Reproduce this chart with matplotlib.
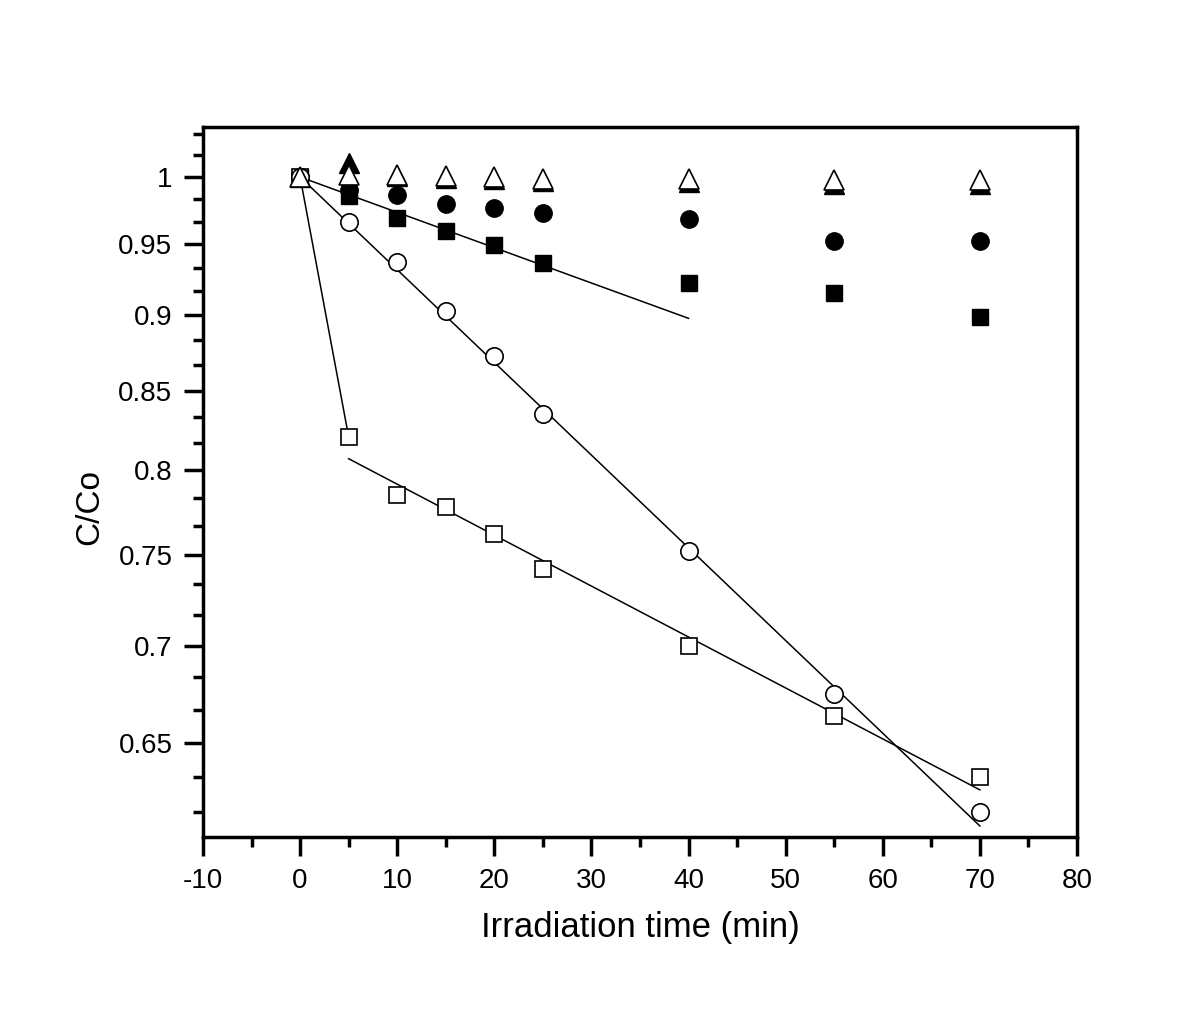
import numpy as np
import matplotlib
matplotlib.use("Agg")
import matplotlib.pyplot as plt
from matplotlib.ticker import FixedLocator, FixedFormatter, NullFormatter

plt.rcParams['font.family'] = ['Liberation Sans', 'DejaVu Sans']
plt.rcParams['axes.unicode_minus'] = False

t = [0, 5, 10, 15, 20, 25, 40, 55, 70]
open_sq = [1.0, 0.8205, 0.785, 0.778, 0.762, 0.742, 0.700, 0.6635, 0.6334]
open_ci = [1.0, 0.9663, 0.9373, 0.903, 0.8726, 0.835, 0.7523, 0.6747, 0.6168]
fill_sq = [1.0, 0.9856, 0.9693, 0.9597, 0.9496, 0.9366, 0.9225, 0.9155, 0.899]
fill_ci = [1.0, 0.9902, 0.9864, 0.9797, 0.9767, 0.973, 0.9685, 0.9525, 0.9525]
fill_tr = [1.0, 1.0107, 1.0005, 0.9995, 0.9985, 0.997, 0.996, 0.995, 0.995]
open_tr = [1.0, 1.0015, 1.0015, 1.0008, 1.0, 0.9985, 0.9985, 0.9978, 0.9978]

# fit lines (start/end points)
fit_fsq_t = [0, 40]; fit_fsq_v = [1.0, 0.898]
fit_oci_t = [0, 70]; fit_oci_v = [1.0, 0.6102]
fit_osq1_t = [0, 5]; fit_osq1_v = [1.0, 0.8205]
fit_osq2_t = [5, 70]; fit_osq2_v = [0.807, 0.6272]

yticks = [0.65, 0.7, 0.75, 0.8, 0.85, 0.9, 0.95, 1.0]
ylabels = ['0.65', '0.7', '0.75', '0.8', '0.85', '0.9', '0.95', '1']
xticks = [-10, 0, 10, 20, 30, 40, 50, 60, 70, 80]

fig = plt.figure(figsize=(12, 10.14), dpi=100)
ax = fig.add_axes([203/1200, 1 - 837/1014, (1077-203)/1200, (837-127)/1014])
ax.set_yscale('log')

lw = 1.1
ax.plot(fit_fsq_t, fit_fsq_v, color='black', lw=lw, zorder=2)
ax.plot(fit_oci_t, fit_oci_v, color='black', lw=lw, zorder=2)
ax.plot(fit_osq1_t, fit_osq1_v, color='black', lw=lw, zorder=2)
ax.plot(fit_osq2_t, fit_osq2_v, color='black', lw=lw, zorder=2)

ax.plot(t, fill_tr, ls='none', marker='^', ms=14, mfc='black', mec='black', zorder=3)
ax.plot(t, fill_ci, ls='none', marker='o', ms=12.5, mfc='black', mec='black', zorder=3)
ax.plot(t, fill_sq, ls='none', marker='s', ms=11, mfc='black', mec='black', zorder=3)
ax.plot(t, open_sq, ls='none', marker='s', ms=11, mfc='white', mec='black', mew=1.2, zorder=4)
ax.plot(t, open_ci, ls='none', marker='o', ms=12.5, mfc='white', mec='black', mew=1.2, zorder=4)
ax.plot(t, open_tr, ls='none', marker='^', ms=14, mfc='white', mec='black', mew=1.2, zorder=5)

ax.set_xlim(-10, 80)
ax.set_ylim(0.6051, 1.0388)

ax.xaxis.set_major_locator(FixedLocator(xticks))
ax.xaxis.set_minor_locator(FixedLocator(np.arange(-5, 80, 10)))
ax.yaxis.set_major_locator(FixedLocator(yticks))
ax.yaxis.set_major_formatter(FixedFormatter(ylabels))
minor_y = [0.6167, 0.6333] + [v + d for v in yticks for d in (0.05/3, 0.1/3)]
ax.yaxis.set_minor_locator(FixedLocator(minor_y))
ax.yaxis.set_minor_formatter(NullFormatter())

for s in ax.spines.values():
    s.set_linewidth(2.5)
ax.tick_params(which='major', direction='out', length=14, width=2.5, labelsize=20, pad=8)
ax.tick_params(which='minor', direction='out', length=7, width=2.5)
ax.tick_params(top=False, right=False)

ax.set_xlabel('Irradiation time (min)', fontsize=25)
ax.set_ylabel('C/Co', fontsize=24)
ax.xaxis.set_label_coords(0.5, -(928 - 837) / 710, transform=ax.transAxes)
ax.xaxis.label.set_va('center')
ax.yaxis.set_label_coords(-(203 - 90) / 874, 1 - (507 - 127) / 710, transform=ax.transAxes)
ax.yaxis.label.set_va('center')

fig.savefig('out.png', dpi=100, facecolor='white')
